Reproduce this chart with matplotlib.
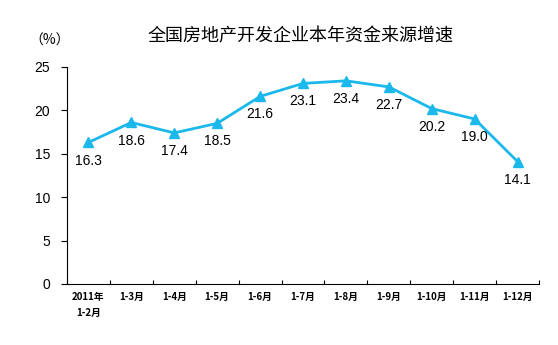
import numpy as np
import matplotlib
matplotlib.use('Agg')
import matplotlib.pyplot as plt

plt.rcParams['font.family'] = ['Noto Sans CJK SC', 'DejaVu Sans']

# 各月累计资金来源同比增速（%）
categories = ['2011年\n1-2月', '1-3月', '1-4月', '1-5月', '1-6月', '1-7月',
              '1-8月', '1-9月', '1-10月', '1-11月', '1-12月']
growth = [16.3, 18.6, 17.4, 18.5, 21.6, 23.1, 23.4, 22.7, 20.2, 19.0, 14.1]
yticks = [0, 5, 10, 15, 20, 25]

fig = plt.figure(figsize=(5.58, 3.45), dpi=100)
ax = fig.add_axes([0.120, 0.177, 0.846, 0.629])

x = np.arange(len(categories))
color = '#1bb8ec'
ax.plot(x, growth, color=color, lw=2, marker='^', markersize=7,
        markerfacecolor=color, markeredgecolor=color, clip_on=False)

for xi, v in zip(x, growth):
    ax.annotate(f'{v:.1f}', (xi, v), xytext=(0, -13), textcoords='offset points',
                ha='center', va='center', fontsize=10, family='Liberation Sans')

ax.set_xlim(-0.5, len(categories) - 0.5)
ax.set_ylim(0, 25)
ax.set_yticks(yticks)
ax.tick_params(axis='y', direction='out', length=4, labelsize=10, pad=8)
for lab in ax.get_yticklabels():
    lab.set_family('Liberation Sans')

# 分类边界刻度朝上，标签放在分类中间
ax.set_xticks(np.arange(len(categories) + 1) - 0.5)
ax.set_xticklabels([])
ax.set_xticks(x, minor=True)
ax.set_xticklabels(categories, minor=True, fontsize=7, fontweight='bold',
                   linespacing=1.7)
ax.tick_params(axis='x', which='major', direction='in', length=3)
ax.tick_params(axis='x', which='minor', length=0, pad=6)

ax.spines['top'].set_visible(False)
ax.spines['right'].set_visible(False)

fig.text(301 / 558, 1 - 36 / 345, '全国房地产开发企业本年资金来源增速',
         ha='center', va='center', fontsize=13)
fig.text(50 / 558, 1 - 41 / 345, '（%）', ha='center', va='center', fontsize=10)

fig.savefig('out.png', dpi=100)
